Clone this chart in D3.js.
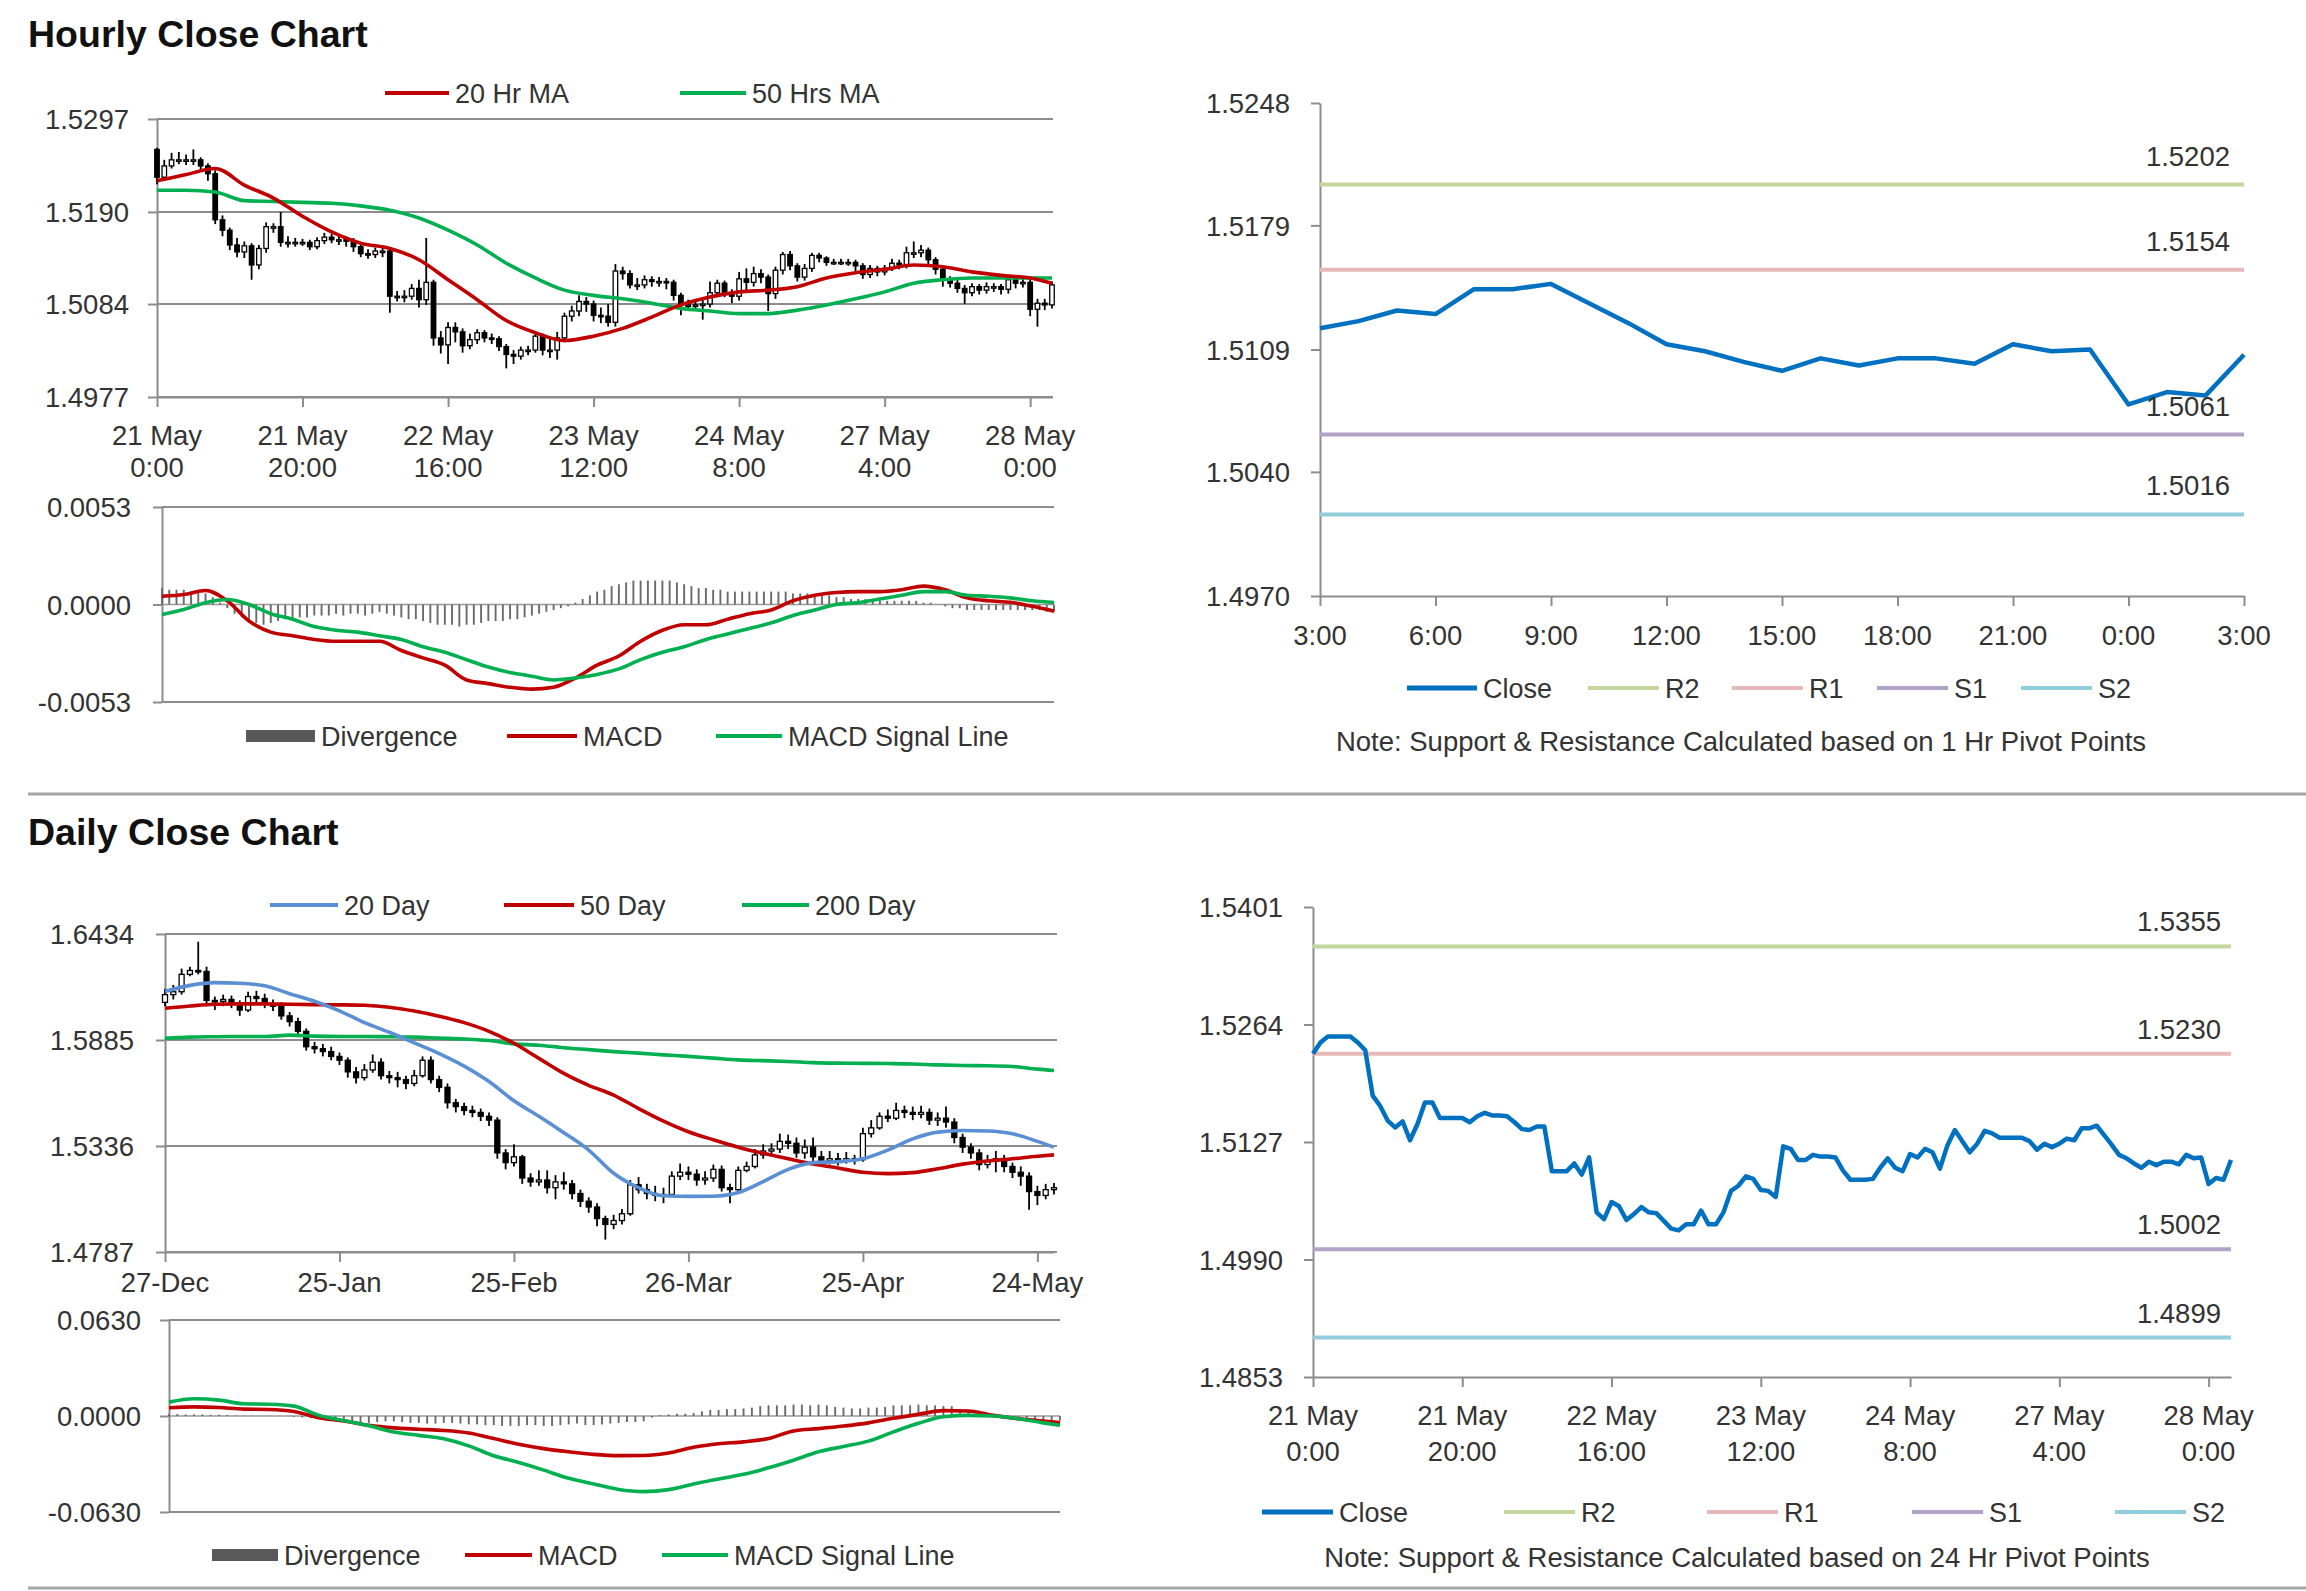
<!DOCTYPE html>
<html>
<head>
<meta charset="utf-8">
<script src="https://cdn.jsdelivr.net/npm/d3@7"></script>
<style>
  html, body { margin: 0; padding: 0; background: #fff; }
  svg { display: block; font-family: "Liberation Sans", Arial, Helvetica, sans-serif; }
</style>
</head>
<body>
<svg id="chart" width="2306" height="1591"></svg>
<script>
// ---------- Hourly data (21 May 0:00 -> 28 May 3:00, one entry per hour) ----------
const hourFirstOpen = 1.5262;
const hourClose = [
  1.5230,1.5243,1.5250,1.5250,1.5250,1.5250,1.5243,1.5234,1.5181,1.5169,
  1.5152,1.5144,1.5151,1.5129,1.5148,1.5173,1.5173,1.5155,1.5155,1.5155,
  1.5155,1.5150,1.5157,1.5161,1.5158,1.5158,1.5157,1.5150,1.5142,1.5141,
  1.5145,1.5145,1.5093,1.5093,1.5093,1.5102,1.5089,1.5109,1.5045,1.5037,
  1.5057,1.5052,1.5036,1.5043,1.5051,1.5045,1.5044,1.5035,1.5026,1.5024,
  1.5031,1.5031,1.5047,1.5031,1.5031,1.5045,1.5070,1.5076,1.5087,1.5084,
  1.5071,1.5070,1.5063,1.5122,1.5119,1.5106,1.5106,1.5112,1.5110,1.5110,
  1.5109,1.5094,1.5083,1.5083,1.5083,1.5084,1.5097,1.5108,1.5097,1.5093,
  1.5113,1.5109,1.5119,1.5115,1.5096,1.5123,1.5141,1.5128,1.5115,1.5125,
  1.5140,1.5137,1.5132,1.5132,1.5132,1.5132,1.5128,1.5118,1.5125,1.5121,
  1.5125,1.5131,1.5129,1.5143,1.5143,1.5146,1.5135,1.5124,1.5112,1.5108,
  1.5102,1.5097,1.5104,1.5100,1.5104,1.5104,1.5101,1.5112,1.5108,1.5109,
  1.5078,1.5085,1.5083,1.5106
];
const hourHigh = [
  1.5264,1.5250,1.5258,1.5259,1.5256,1.5262,1.5253,1.5246,1.5238,1.5186,
  1.5172,1.5160,1.5156,1.5154,1.5152,1.5178,1.5177,1.5190,1.5162,1.5160,
  1.5159,1.5158,1.5161,1.5166,1.5165,1.5163,1.5162,1.5160,1.5153,1.5147,
  1.5149,1.5151,1.5148,1.5099,1.5100,1.5107,1.5112,1.5160,1.5112,1.5053,
  1.5063,1.5063,1.5056,1.5050,1.5055,1.5054,1.5050,1.5047,1.5038,1.5031,
  1.5035,1.5036,1.5052,1.5050,1.5046,1.5052,1.5074,1.5082,1.5094,1.5092,
  1.5088,1.5080,1.5084,1.5130,1.5127,1.5123,1.5114,1.5117,1.5116,1.5115,
  1.5114,1.5112,1.5097,1.5089,1.5088,1.5090,1.5110,1.5112,1.5111,1.5101,
  1.5121,1.5125,1.5127,1.5124,1.5118,1.5127,1.5144,1.5145,1.5131,1.5130,
  1.5143,1.5143,1.5139,1.5136,1.5136,1.5136,1.5135,1.5131,1.5129,1.5128,
  1.5129,1.5136,1.5135,1.5150,1.5156,1.5152,1.5149,1.5138,1.5127,1.5116,
  1.5112,1.5106,1.5108,1.5107,1.5109,1.5108,1.5107,1.5115,1.5116,1.5114,
  1.5112,1.5090,1.5090,1.5110
];
const hourLow = [
  1.5222,1.5226,1.5240,1.5245,1.5244,1.5244,1.5238,1.5226,1.5176,1.5162,
  1.5146,1.5138,1.5137,1.5112,1.5124,1.5143,1.5166,1.5150,1.5149,1.5150,
  1.5151,1.5146,1.5147,1.5153,1.5154,1.5152,1.5150,1.5144,1.5138,1.5136,
  1.5137,1.5138,1.5074,1.5087,1.5086,1.5089,1.5080,1.5083,1.5036,1.5027,
  1.5015,1.5040,1.5028,1.5032,1.5038,1.5040,1.5038,1.5030,1.5010,1.5015,
  1.5020,1.5025,1.5028,1.5025,1.5022,1.5020,1.5040,1.5064,1.5070,1.5075,
  1.5064,1.5062,1.5058,1.5058,1.5112,1.5102,1.5100,1.5102,1.5104,1.5104,
  1.5101,1.5088,1.5071,1.5076,1.5078,1.5066,1.5080,1.5092,1.5092,1.5085,
  1.5088,1.5100,1.5104,1.5108,1.5076,1.5090,1.5118,1.5123,1.5110,1.5111,
  1.5121,1.5132,1.5128,1.5129,1.5129,1.5128,1.5122,1.5113,1.5114,1.5116,
  1.5117,1.5122,1.5124,1.5125,1.5137,1.5138,1.5130,1.5118,1.5104,1.5103,
  1.5097,1.5084,1.5093,1.5095,1.5096,1.5098,1.5095,1.5096,1.5102,1.5103,
  1.5070,1.5058,1.5077,1.5079
];
// moving averages, read every 4 hours
const hourMaIdx = [0,4,8,12,16,20,24,28,32,36,40,44,48,52,56,60,64,68,72,76,80,84,88,92,96,100,104,108,112,116,120,123];
const hourMa20 = [1.5226,1.5233,1.5240,1.5221,1.5206,1.5185,1.5167,1.5154,1.5148,1.5135,1.5112,1.5089,1.5065,1.5051,1.5042,1.5047,
  1.5056,1.5069,1.5083,1.5092,1.5098,1.5100,1.5104,1.5114,1.5120,1.5124,1.5129,1.5127,1.5121,1.5117,1.5114,1.5108];
const hourMa50 = [1.5215,1.5215,1.5213,1.5203,1.5202,1.5201,1.5200,1.5197,1.5192,1.5183,1.5169,1.5152,1.5131,1.5114,1.5100,1.5094,
  1.5090,1.5085,1.5079,1.5076,1.5073,1.5073,1.5077,1.5083,1.5090,1.5098,1.5108,1.5112,1.5114,1.5114,1.5114,1.5114];
// MACD, read every 3 hours
const hourMacdIdx = d3.range(0, 124, 3);
const hourMacd = [0.00045,0.00054,0.00076,0.0002,-0.0009,-0.0015,-0.0017,-0.0019,-0.0020,-0.0020,-0.0020,-0.0025,-0.0029,-0.0033,
  -0.0041,-0.0043,-0.0045,-0.0046,-0.0045,-0.0040,-0.0033,-0.0028,-0.0020,-0.0014,-0.0011,-0.0011,-0.0008,-0.0005,-0.0003,0.0002,
  0.0005,0.00065,0.0007,0.0007,0.0008,0.0010,0.0008,0.00036,0.0002,0.00012,-0.0001,-0.00036];
const hourSignal = [-0.00054,-0.00027,0.0001,0.00027,0.0000,-0.0005,-0.0008,-0.0012,-0.0014,-0.0015,-0.0017,-0.0019,-0.0023,-0.0026,
  -0.0030,-0.0034,-0.0037,-0.0039,-0.0041,-0.0040,-0.0038,-0.0035,-0.0030,-0.0026,-0.0023,-0.0019,-0.0016,-0.0013,-0.0010,-0.0006,
  -0.0003,0.0000,0.0001,0.0003,0.0005,0.0007,0.0007,0.0005,0.00045,0.00036,0.0002,0.0001];
const hourDivergence = [
  0.0009,0.0008,0.0008,0.0008,0.0007,0.0007,0.0006,0.0004,0.0001,-0.0002,
  -0.0005,-0.0007,-0.0009,-0.0010,-0.0011,-0.0010,-0.0009,-0.0008,-0.0008,-0.0007,
  -0.0007,-0.0006,-0.0006,-0.0006,-0.0005,-0.0006,-0.0005,-0.0005,-0.0006,-0.0005,
  -0.0004,-0.0005,-0.0006,-0.0007,-0.0008,-0.0008,-0.0009,-0.0010,-0.0011,-0.0011,
  -0.0011,-0.0012,-0.0011,-0.0011,-0.0010,-0.0009,-0.0009,-0.0009,-0.0008,-0.0008,
  -0.0007,-0.0006,-0.0005,-0.0004,-0.0003,-0.0002,-0.0001,0.0001,0.0003,0.0005,
  0.0007,0.0008,0.0010,0.0011,0.0012,0.0013,0.0013,0.0013,0.0013,0.0013,
  0.0013,0.0012,0.0011,0.0010,0.0009,0.0009,0.0008,0.0008,0.0007,0.0007,
  0.0007,0.0007,0.0007,0.0007,0.0007,0.0007,0.0007,0.0006,0.0006,0.0006,
  0.0005,0.0005,0.0005,0.0004,0.0004,0.0003,0.0003,0.0003,0.0003,0.0002,
  0.0002,0.0002,0.0002,0.0002,0.0002,0.0001,0.0001,0.0000,-0.0001,-0.0002,
  -0.0002,-0.0003,-0.0003,-0.0003,-0.0003,-0.0003,-0.0003,-0.0003,-0.0003,-0.0003,
  -0.0003,-0.0003,-0.0004,-0.0004
];
const hourTickLabels = [['21 May','0:00'],['21 May','20:00'],['22 May','16:00'],['23 May','12:00'],['24 May','8:00'],['27 May','4:00'],['28 May','0:00']];
const hourTickEvery = 20;

// last 25 hours for the 1 Hr pivot chart
const pivotHourLabels = ['3:00','4:00','5:00','6:00','7:00','8:00','9:00','10:00','11:00','12:00','13:00','14:00','15:00',
  '16:00','17:00','18:00','19:00','20:00','21:00','22:00','23:00','0:00','1:00','2:00','3:00'];
const levelNames = ['R2','R1','S1','S2'];
const hourLevels = [1.5202, 1.5154, 1.5061, 1.5016];
const dayLevels = [1.5355, 1.5230, 1.5002, 1.4899];

// ---------- Daily data (27-Dec -> 28-May, one entry per trading day) ----------
const dayFirstOpen = 1.6080;
const dayClose = [
  1.6120,1.6135,1.6225,1.6245,1.6240,1.6090,1.6085,1.6095,1.6070,1.6040,
  1.6110,1.6100,1.6070,1.6060,1.6010,1.5980,1.5930,1.5850,1.5840,1.5825,
  1.5800,1.5780,1.5720,1.5690,1.5730,1.5770,1.5700,1.5690,1.5680,1.5660,
  1.5700,1.5780,1.5680,1.5640,1.5560,1.5540,1.5520,1.5510,1.5490,1.5470,
  1.5300,1.5250,1.5280,1.5170,1.5150,1.5160,1.5120,1.5150,1.5140,1.5090,
  1.5050,1.5020,1.4960,1.4930,1.4950,1.4985,1.5135,1.5110,1.5090,1.5080,
  1.5085,1.5180,1.5200,1.5190,1.5160,1.5170,1.5215,1.5120,1.5110,1.5210,
  1.5230,1.5290,1.5310,1.5320,1.5360,1.5350,1.5300,1.5330,1.5280,1.5260,
  1.5270,1.5260,1.5270,1.5265,1.5400,1.5430,1.5490,1.5480,1.5520,1.5510,
  1.5500,1.5510,1.5470,1.5480,1.5460,1.5380,1.5330,1.5300,1.5240,1.5260,
  1.5270,1.5230,1.5200,1.5180,1.5100,1.5080,1.5110,1.5120
];
const dayHigh = [
  1.6150,1.6170,1.6255,1.6265,1.6394,1.6265,1.6110,1.6120,1.6115,1.6090,
  1.6135,1.6140,1.6125,1.6095,1.6080,1.6030,1.6000,1.5945,1.5875,1.5865,
  1.5850,1.5820,1.5795,1.5745,1.5760,1.5810,1.5790,1.5725,1.5720,1.5700,
  1.5730,1.5800,1.5800,1.5700,1.5660,1.5580,1.5560,1.5545,1.5530,1.5510,
  1.5485,1.5320,1.5345,1.5290,1.5195,1.5210,1.5210,1.5185,1.5200,1.5160,
  1.5110,1.5070,1.5040,1.4975,1.4980,1.5010,1.5160,1.5175,1.5140,1.5130,
  1.5120,1.5205,1.5245,1.5230,1.5215,1.5205,1.5240,1.5235,1.5140,1.5230,
  1.5255,1.5320,1.5345,1.5350,1.5400,1.5395,1.5380,1.5370,1.5380,1.5310,
  1.5310,1.5300,1.5305,1.5290,1.5430,1.5470,1.5510,1.5525,1.5560,1.5545,
  1.5540,1.5545,1.5530,1.5510,1.5540,1.5480,1.5400,1.5350,1.5320,1.5290,
  1.5310,1.5290,1.5250,1.5230,1.5200,1.5130,1.5140,1.5145
];
const dayLow = [
  1.6060,1.6095,1.6120,1.6215,1.6225,1.6060,1.6040,1.6060,1.6050,1.6010,
  1.6030,1.6075,1.6050,1.6035,1.5990,1.5955,1.5900,1.5830,1.5815,1.5800,
  1.5780,1.5755,1.5690,1.5660,1.5675,1.5715,1.5680,1.5660,1.5640,1.5630,
  1.5645,1.5690,1.5660,1.5615,1.5530,1.5510,1.5495,1.5485,1.5465,1.5440,
  1.5270,1.5215,1.5230,1.5140,1.5125,1.5130,1.5090,1.5060,1.5110,1.5060,
  1.5020,1.4990,1.4920,1.4851,1.4905,1.4930,1.4975,1.5090,1.5060,1.5050,
  1.5040,1.5075,1.5160,1.5160,1.5130,1.5135,1.5150,1.5100,1.5040,1.5100,
  1.5200,1.5220,1.5270,1.5290,1.5300,1.5320,1.5275,1.5270,1.5250,1.5230,
  1.5240,1.5235,1.5245,1.5240,1.5255,1.5380,1.5420,1.5460,1.5470,1.5480,
  1.5470,1.5480,1.5445,1.5440,1.5430,1.5350,1.5300,1.5270,1.5210,1.5220,
  1.5200,1.5200,1.5170,1.5130,1.5006,1.5030,1.5060,1.5085
];
// moving averages and MACD, read every 3 days
const daySampleIdx = [0,3,6,9,12,15,18,21,24,27,30,33,36,39,42,45,48,51,54,57,60,63,66,69,72,75,78,81,84,87,90,93,96,99,102,105,107];
const dayMa20 = [1.6136,1.6168,1.6182,1.6179,1.6166,1.6125,1.6086,1.6036,1.5975,1.5925,1.5870,1.5815,1.5750,1.5670,1.5570,1.5490,
  1.5405,1.5315,1.5195,1.5120,1.5078,1.5075,1.5076,1.5095,1.5152,1.5215,1.5250,1.5255,1.5270,1.5315,1.5373,1.5408,1.5416,1.5414,
  1.5400,1.5360,1.5330];
const dayMa50 = [1.6049,1.6061,1.6070,1.6072,1.6072,1.6070,1.6068,1.6067,1.6065,1.6055,1.6035,1.6008,1.5975,1.5930,1.5868,1.5790,
  1.5712,1.5650,1.5600,1.5530,1.5465,1.5410,1.5368,1.5330,1.5298,1.5270,1.5243,1.5222,1.5200,1.5193,1.5198,1.5218,1.5242,1.5258,
  1.5270,1.5283,1.5290];
const dayMa200 = [1.5894,1.5900,1.5902,1.5903,1.5903,1.5910,1.5905,1.5903,1.5903,1.5902,1.5900,1.5895,1.5890,1.5882,1.5865,1.5858,
  1.5845,1.5835,1.5825,1.5817,1.5808,1.5800,1.5791,1.5782,1.5778,1.5774,1.5768,1.5765,1.5764,1.5763,1.5761,1.5756,1.5753,1.5752,
  1.5748,1.5734,1.5727];
const dayMacd = [0.0054,0.0060,0.0056,0.0045,0.0043,0.0030,-0.0011,-0.0033,-0.0061,-0.0078,-0.0087,-0.0095,-0.0112,-0.0148,-0.0185,
  -0.0214,-0.0235,-0.0252,-0.0260,-0.0259,-0.0243,-0.0205,-0.0182,-0.0170,-0.0148,-0.0098,-0.0083,-0.0066,-0.0045,-0.0015,0.0011,
  0.0035,0.0033,0.0004,-0.0018,-0.0033,-0.0043];
const daySignal = [0.0091,0.0113,0.0104,0.0080,0.0077,0.0065,0.0004,-0.0030,-0.0064,-0.0105,-0.0127,-0.0150,-0.0196,-0.0261,-0.0305,
  -0.0355,-0.0409,-0.0446,-0.0482,-0.0496,-0.0483,-0.0446,-0.0413,-0.0383,-0.0340,-0.0290,-0.0235,-0.0200,-0.0165,-0.0104,-0.0048,
  -0.0005,0.0004,0.0000,-0.0018,-0.0045,-0.0061];
const dayDivergence = [
  0.0012,0.0012,0.0010,0.0010,0.0010,0.0008,0.0008,0.0006,0.0004,0.0002,
  0.0002,0.0001,0.0001,0.0000,0.0000,-0.0005,-0.0010,-0.0015,-0.0020,-0.0025,
  -0.0030,-0.0035,-0.0040,-0.0045,-0.0045,-0.0040,-0.0035,-0.0035,-0.0040,-0.0045,
  -0.0045,-0.0050,-0.0050,-0.0045,-0.0045,-0.0050,-0.0055,-0.0055,-0.0060,-0.0060,
  -0.0065,-0.0065,-0.0065,-0.0060,-0.0060,-0.0065,-0.0065,-0.0060,-0.0055,-0.0050,
  -0.0060,-0.0060,-0.0055,-0.0050,-0.0045,-0.0040,-0.0040,-0.0035,-0.0010,0.0005,
  0.0010,0.0015,0.0015,0.0020,0.0030,0.0040,0.0040,0.0045,0.0045,0.0050,
  0.0055,0.0065,0.0070,0.0070,0.0070,0.0075,0.0075,0.0070,0.0075,0.0070,
  0.0060,0.0055,0.0050,0.0050,0.0055,0.0055,0.0060,0.0070,0.0070,0.0070,
  0.0075,0.0070,0.0070,0.0065,0.0065,0.0035,0.0025,0.0010,-0.0005,-0.0010,
  -0.0015,-0.0015,-0.0020,-0.0020,-0.0025,-0.0025,-0.0030,-0.0030
];
const dayTickLabels = ['27-Dec','25-Jan','25-Feb','26-Mar','25-Apr','24-May'];
const dayTickEvery = 21;

// ---------- styles ----------
const GRID = '#8c8c8c';
const TEXT = '#333';
const RED = '#c00000', GREEN = '#00b050', BLUE_MA = '#5b8fd4', CLOSE = '#0070c0';
const levelColors = ['#c3d69b', '#e6b9b8', '#b3a2c7', '#93cddd'];
const TICK_FONT = 27.5, LEGEND_FONT = 27, NOTE_FONT = 27.5, TITLE_FONT = 37.5;

// Excel style numbers: plain hyphen for negatives
const fmt4 = d3.formatLocale({ decimal: '.', thousands: ',', grouping: [3], currency: ['', ''], minus: '-' }).format('.4f');

const svg = d3.select('#chart');
svg.append('rect').attr('width', 2306).attr('height', 1591).attr('fill', '#fff');

function text(g, x, y, s, size, anchor) {
  return g.append('text').attr('x', x).attr('y', y).attr('font-size', size)
    .attr('fill', TEXT).attr('text-anchor', anchor || 'start').text(s);
}

// y axis: line with small ticks on the left and right-aligned labels
function yAxis(g, x0, y, ticks, pad) {
  const ax = g.append('g').attr('transform', `translate(${x0},0)`)
    .call(d3.axisLeft(y).tickValues(ticks).tickFormat(fmt4).tickSize(9).tickSizeOuter(0).tickPadding(pad));
  ax.attr('font-family', null).attr('font-size', TICK_FONT);
  ax.select('.domain').attr('stroke', GRID).attr('stroke-width', 2);
  ax.selectAll('.tick line').attr('stroke', GRID).attr('stroke-width', 2);
  ax.selectAll('.tick text').attr('fill', TEXT).attr('dy', '0.36em');
}

// x axis: tick marks downwards, labels drawn separately (one or two lines)
function xAxis(g, yPos, x, tickIdx, labels, base, gap) {
  const ax = g.append('g').attr('transform', `translate(0,${yPos})`)
    .call(d3.axisBottom(x).tickValues(tickIdx).tickFormat('').tickSize(10).tickSizeOuter(0));
  ax.select('.domain').attr('stroke', GRID).attr('stroke-width', 2);
  ax.selectAll('.tick line').attr('stroke', GRID).attr('stroke-width', 2);
  tickIdx.forEach((ix, k) => {
    const t = g.append('text').attr('font-size', TICK_FONT).attr('fill', TEXT)
      .attr('text-anchor', 'middle').attr('y', base);
    [].concat(labels[k]).forEach((s, j) => {
      t.append('tspan').attr('x', x(ix)).attr('dy', j ? gap : 0).text(s);
    });
  });
}

function legendLine(g, x, y, len, color, width, label) {
  g.append('line').attr('x1', x).attr('x2', x + len).attr('y1', y).attr('y2', y)
    .attr('stroke', color).attr('stroke-width', width);
  text(g, x + len + 6, y, label, LEGEND_FONT).attr('dy', '0.36em');
}
function legendBox(g, x, y, len, label) {
  g.append('rect').attr('x', x).attr('y', y - 6).attr('width', len).attr('height', 12).attr('fill', '#595959');
  text(g, x + len + 6, y, label, LEGEND_FONT).attr('dy', '0.36em');
}

// candlestick panel with moving averages
function candlePanel(o) {
  const g = svg.append('g');
  const x = d3.scaleLinear().domain([0, o.close.length - 1]).range([o.x0, o.x1]);
  const y = d3.scaleLinear().domain(o.domain).range([o.yBottom, o.yTop]);

  g.selectAll('.grid').data(o.ticks).join('line')
    .attr('x1', o.x0).attr('x2', o.gridRight).attr('y1', d => y(d)).attr('y2', d => y(d))
    .attr('stroke', GRID).attr('stroke-width', 2);
  yAxis(g, o.x0, y, o.ticks, o.pad);
  const tickIdx = o.tickLabels.map((d, k) => k * o.tickEvery);
  xAxis(g, o.yBottom, x, tickIdx, o.tickLabels, o.labelBase, o.labelGap);

  const candles = o.close.map((c, i) => ({ i, o: i ? o.close[i - 1] : o.firstOpen, c, h: o.high[i], l: o.low[i] }));
  const cg = g.append('g');
  cg.selectAll('line').data(candles).join('line')
    .attr('x1', d => x(d.i)).attr('x2', d => x(d.i))
    .attr('y1', d => y(Math.max(d.h, d.o, d.c))).attr('y2', d => y(Math.min(d.l, d.o, d.c)))
    .attr('stroke', '#000').attr('stroke-width', 1.8);
  cg.selectAll('rect').data(candles).join('rect')
    .attr('x', d => x(d.i) - o.bodyW / 2).attr('width', o.bodyW)
    .attr('y', d => y(Math.max(d.o, d.c)))
    .attr('height', d => Math.max(1.5, Math.abs(y(d.o) - y(d.c))))
    .attr('fill', d => d.c >= d.o ? '#fff' : '#000')
    .attr('stroke', '#000').attr('stroke-width', 1.3);

  o.mas.forEach(m => {
    const line = d3.line().x((d, k) => x(m.idx[k])).y(d => y(d)).curve(d3.curveMonotoneX);
    g.append('path').datum(m.values).attr('d', line)
      .attr('fill', 'none').attr('stroke', m.color).attr('stroke-width', 3.6).attr('stroke-linejoin', 'round');
  });
  return g;
}

// MACD panel: divergence bars plus MACD and signal lines
function macdPanel(o) {
  const g = svg.append('g');
  const x = d3.scaleLinear().domain([0, o.divergence.length - 1]).range([o.x0, o.x1]);
  const y = d3.scaleLinear().domain([-o.lim, o.lim]).range([o.yBottom, o.yTop]);
  const ticks = [-o.lim, 0, o.lim];

  g.selectAll('.grid').data([-o.lim, o.lim]).join('line')
    .attr('x1', o.x0).attr('x2', o.x1).attr('y1', d => y(d)).attr('y2', d => y(d))
    .attr('stroke', GRID).attr('stroke-width', 2);
  g.append('line').attr('x1', o.x0).attr('x2', o.x1).attr('y1', y(0)).attr('y2', y(0))
    .attr('stroke', '#999').attr('stroke-width', 1.5);
  yAxis(g, o.x0, y, ticks, o.pad);

  g.append('g').selectAll('line').data(o.divergence).join('line')
    .attr('x1', (d, i) => x(i)).attr('x2', (d, i) => x(i))
    .attr('y1', y(0)).attr('y2', d => y(d))
    .attr('stroke', '#6a6a6a').attr('stroke-width', 1.9);

  [[o.macd, RED], [o.signal, GREEN]].forEach(([vals, color]) => {
    const line = d3.line().x((d, k) => x(o.idx[k])).y(d => y(d)).curve(d3.curveMonotoneX);
    g.append('path').datum(vals).attr('d', line)
      .attr('fill', 'none').attr('stroke', color).attr('stroke-width', 3.6).attr('stroke-linejoin', 'round');
  });
  return g;
}

// pivot panel: close line with support/resistance levels
function pivotPanel(o) {
  const g = svg.append('g');
  const x = d3.scaleLinear().domain([0, o.close.length - 1]).range([o.x0, o.x1]);
  const y = d3.scaleLinear().domain(o.domain).range([o.yBottom, o.yTop]);

  yAxis(g, o.x0, y, o.ticks, o.pad);
  xAxis(g, o.yBottom, x, o.tickIdx, o.tickLabels, o.labelBase, o.labelGap);

  o.levels.forEach((v, k) => {
    g.append('line').attr('x1', o.x0).attr('x2', o.x1).attr('y1', y(v)).attr('y2', y(v))
      .attr('stroke', levelColors[k]).attr('stroke-width', 4);
  });
  g.append('path').datum(o.close)
    .attr('d', d3.line().x((d, i) => x(i)).y(d => y(d)))
    .attr('fill', 'none').attr('stroke', CLOSE).attr('stroke-width', 4.5).attr('stroke-linejoin', 'round');
  o.levels.forEach(v => {
    text(g, o.labelRight, y(v) - o.labelLift, fmt4(v), TICK_FONT, 'end');
  });
  return g;
}

// ---------- titles and separators ----------
text(svg, 28, 47, 'Hourly Close Chart', TITLE_FONT).attr('font-weight', 'bold').attr('fill', '#111');
text(svg, 28, 845, 'Daily Close Chart', TITLE_FONT).attr('font-weight', 'bold').attr('fill', '#111');
[794, 1588].forEach(yy => svg.append('line').attr('x1', 28).attr('x2', 2306).attr('y1', yy).attr('y2', yy)
  .attr('stroke', '#a6a6a6').attr('stroke-width', 3));

// ---------- hourly candles ----------
candlePanel({
  x0: 157, x1: 1052, gridRight: 1053, yTop: 119, yBottom: 397,
  domain: [1.4977, 1.5297], ticks: [1.4977, 1.5084, 1.5190, 1.5297], pad: 19,
  close: hourClose, high: hourHigh, low: hourLow, firstOpen: hourFirstOpen, bodyW: 4.5,
  tickLabels: hourTickLabels, tickEvery: hourTickEvery, labelBase: 445, labelGap: 32,
  mas: [{ idx: hourMaIdx, values: hourMa50, color: GREEN }, { idx: hourMaIdx, values: hourMa20, color: RED }]
});
const lg1 = svg.append('g');
legendLine(lg1, 385, 93, 64, RED, 4, '20 Hr MA');
legendLine(lg1, 680, 93, 66, GREEN, 4, '50 Hrs MA');

macdPanel({
  x0: 162, x1: 1054, yTop: 507, yBottom: 702, lim: 0.0053, pad: 22,
  divergence: hourDivergence, idx: hourMacdIdx, macd: hourMacd, signal: hourSignal
});
const lg2 = svg.append('g');
legendBox(lg2, 246, 736, 69, 'Divergence');
legendLine(lg2, 507, 736, 70, RED, 4, 'MACD');
legendLine(lg2, 716, 736, 66, GREEN, 4, 'MACD Signal Line');

// ---------- hourly pivots ----------
pivotPanel({
  x0: 1320, x1: 2244, yTop: 103, yBottom: 596,
  domain: [1.4970, 1.5248], ticks: [1.4970, 1.5040, 1.5109, 1.5179, 1.5248], pad: 21,
  close: hourClose.slice(-pivotHourLabels.length), levels: hourLevels, labelRight: 2230, labelLift: 19,
  tickIdx: d3.range(0, pivotHourLabels.length, 3),
  tickLabels: d3.range(0, pivotHourLabels.length, 3).map(i => pivotHourLabels[i]),
  labelBase: 645, labelGap: 0
});
const lg3 = svg.append('g');
legendLine(lg3, 1407, 688, 70, CLOSE, 5, 'Close');
[1588, 1732, 1877, 2021].forEach((lx, k) => legendLine(lg3, lx, 688, 71, levelColors[k], 4, levelNames[k]));
text(svg, 1741, 741, 'Note: Support & Resistance Calculated based on 1 Hr Pivot Points', NOTE_FONT, 'middle').attr('dy', '0.36em');

// ---------- daily candles ----------
candlePanel({
  x0: 165, x1: 1054, gridRight: 1057, yTop: 934, yBottom: 1252,
  domain: [1.4787, 1.6434], ticks: [1.4787, 1.5336, 1.5885, 1.6434], pad: 22,
  close: dayClose, high: dayHigh, low: dayLow, firstOpen: dayFirstOpen, bodyW: 5,
  tickLabels: dayTickLabels, tickEvery: dayTickEvery, labelBase: 1292, labelGap: 0,
  mas: [{ idx: daySampleIdx, values: dayMa200, color: GREEN }, { idx: daySampleIdx, values: dayMa50, color: RED },
        { idx: daySampleIdx, values: dayMa20, color: BLUE_MA }]
});
const lg4 = svg.append('g');
legendLine(lg4, 270, 905, 68, BLUE_MA, 4, '20 Day');
legendLine(lg4, 504, 905, 70, RED, 4, '50 Day');
legendLine(lg4, 742, 905, 67, GREEN, 4, '200 Day');

macdPanel({
  x0: 169, x1: 1060, yTop: 1320, yBottom: 1512, lim: 0.063, pad: 19,
  divergence: dayDivergence, idx: daySampleIdx, macd: dayMacd, signal: daySignal
});
const lg5 = svg.append('g');
legendBox(lg5, 212, 1555, 66, 'Divergence');
legendLine(lg5, 465, 1555, 67, RED, 4, 'MACD');
legendLine(lg5, 662, 1555, 66, GREEN, 4, 'MACD Signal Line');

// ---------- 24 hr pivots over the hourly closes ----------
pivotPanel({
  x0: 1313, x1: 2231, yTop: 907, yBottom: 1377,
  domain: [1.4853, 1.5401], ticks: [1.4853, 1.4990, 1.5127, 1.5264, 1.5401], pad: 21,
  close: hourClose, levels: dayLevels, labelRight: 2221, labelLift: 15,
  tickIdx: hourTickLabels.map((d, k) => k * hourTickEvery), tickLabels: hourTickLabels,
  labelBase: 1425, labelGap: 36
});
const lg6 = svg.append('g');
legendLine(lg6, 1262, 1512, 71, CLOSE, 5, 'Close');
[1504, 1707, 1912, 2115].forEach((lx, k) => legendLine(lg6, lx, 1512, 71, levelColors[k], 4, levelNames[k]));
text(svg, 1737, 1557, 'Note: Support & Resistance Calculated based on 24 Hr Pivot Points', NOTE_FONT, 'middle').attr('dy', '0.36em');
</script>
</body>
</html>
